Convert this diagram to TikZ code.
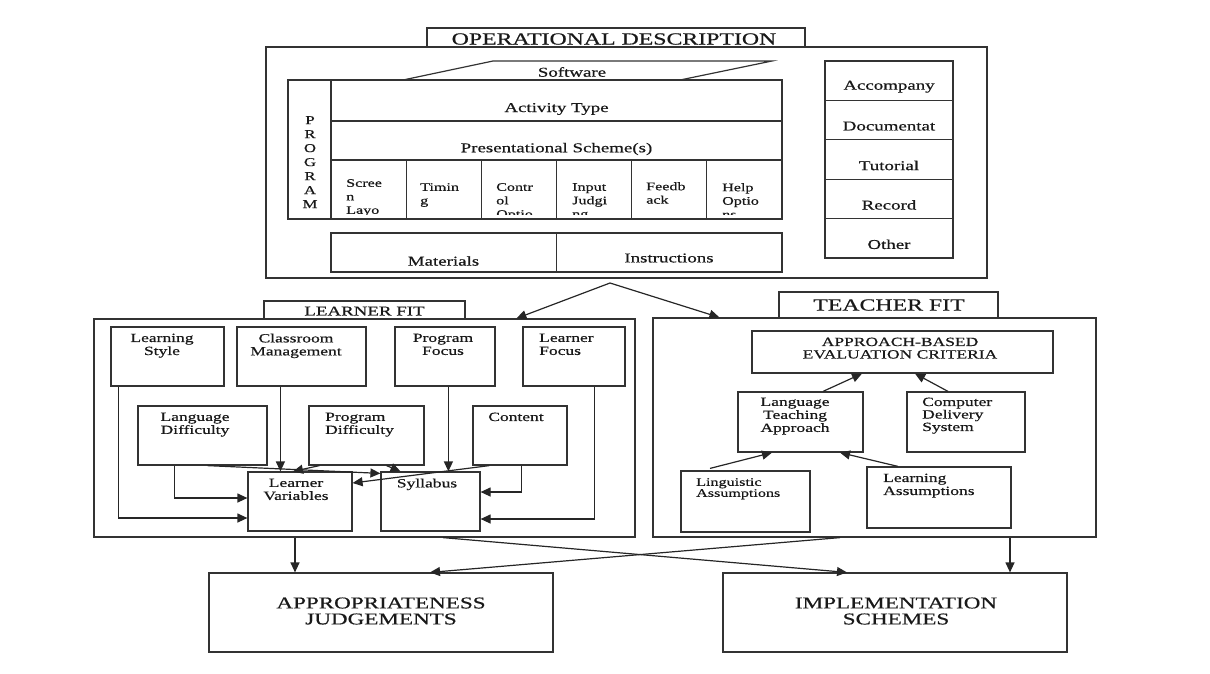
\documentclass[tikz,border=0pt]{standalone}
\usepackage{fontspec}
\setmainfont{Liberation Serif}[FakeStretch=1.4,FakeBold=0.6]
\usetikzlibrary{positioning}
\usetikzlibrary{arrows.meta}
\tikzset{%
  bx/.style = {rectangle,draw=black!80,line width=1.2pt,inner sep=0pt},
  tx/.style = {inner sep=0pt,text=black!90,align=center,
        font=\fontsize{12.5}{13}\selectfont},
  cellt/.style = {inner sep=0pt,text=black!90,align=left,anchor=north west,
        font=\fontsize{11.5}{13.5}\selectfont},
  linkarrow/.style = {-{Triangle[length=10pt,width=9pt]},draw=black!85,line width=1.2pt}
}
\begin{document}
\begin{tikzpicture}[x=1pt,y=-1pt]
  \useasboundingbox (0,0) rectangle (1210,673);
  % operational description
  \node[bx,minimum width=378,minimum height=19] (odtab) at (616,37.5) {};
  \node[tx,font=\fontsize{17}{17}\selectfont] (odtab-t) at (614,39) {OPERATIONAL DESCRIPTION};
  \node[bx,minimum width=721,minimum height=231] (od) at (626.5,162.5) {};
  \draw[black!80,line width=1.2pt] (403,80) -- (493,61) -- (772,61) -- (680,80);
  \node[tx,font=\fontsize{13.5}{14}\selectfont] (soft) at (572,72) {Software};
  \node[bx,minimum width=494,minimum height=139] (prog) at (535,149.5) {};
  \draw[black!80,line width=1.2pt] (331,80) -- (331,219)
    (331,121) -- (782,121) (331,160) -- (782,160)
    (406.2,160) -- (406.2,219) (481.3,160) -- (481.3,219) (556.5,160) -- (556.5,219)
    (631.7,160) -- (631.7,219) (706.8,160) -- (706.8,219);
  \node[tx,anchor=north,font=\fontsize{12}{14}\selectfont] (prog-t) at (310,116) {P\\R\\O\\G\\R\\A\\M};
  \node[tx,font=\fontsize{13.5}{14}\selectfont] (act) at (556.5,109) {Activity Type};
  \node[tx,font=\fontsize{13.5}{14}\selectfont] (pres) at (556.5,149) {Presentational Scheme(s)};
  \begin{scope}
    \clip (331,160) rectangle (782,214.5);
    \node[cellt] (c1) at (346,179) {Scree\\n\\Layo};
    \node[cellt] (c2) at (420,183) {Timin\\g};
    \node[cellt] (c3) at (496,183) {Contr\\ol\\Optio};
    \node[cellt] (c4) at (572,183) {Input\\Judgi\\ng};
    \node[cellt] (c5) at (646,182) {Feedb\\ack};
    \node[cellt] (c6) at (722,183) {Help\\Optio\\ns};
  \end{scope}
  \node[bx,minimum width=225.5,minimum height=39] (mat) at (443.75,252.5) {};
  \node[bx,minimum width=225.5,minimum height=39] (ins) at (669.25,252.5) {};
  \node[tx,font=\fontsize{13.5}{14}\selectfont] (mat-t) at (443.5,261) {Materials};
  \node[tx,font=\fontsize{13.5}{14}\selectfont] (ins-t) at (669,258) {Instructions};
  % accompanying material
  \node[bx,minimum width=128,minimum height=39.4] (acc) at (889,80.7) {};
  \node[bx,minimum width=128,minimum height=39.4] (doc) at (889,120.1) {};
  \node[bx,minimum width=128,minimum height=39.4] (tut) at (889,159.5) {};
  \node[bx,minimum width=128,minimum height=39.4] (rec) at (889,198.9) {};
  \node[bx,minimum width=128,minimum height=39.4] (oth) at (889,238.3) {};
  \node[tx,font=\fontsize{13.5}{14}\selectfont] (acc-t) at (889,86.7) {Accompany};
  \node[tx,font=\fontsize{13.5}{14}\selectfont] (doc-t) at (889,126.1) {Documentat};
  \node[tx,font=\fontsize{13.5}{14}\selectfont] (tut-t) at (889,165.5) {Tutorial};
  \node[tx,font=\fontsize{13.5}{14}\selectfont] (rec-t) at (889,204.9) {Record};
  \node[tx,font=\fontsize{13.5}{14}\selectfont] (oth-t) at (889,244.3) {Other};
  \coordinate (split) at (610,283);
  % learner fit
  \node[bx,minimum width=201,minimum height=18] (lftab) at (364.5,310) {};
  \node[tx,font=\fontsize{13.5}{14}\selectfont] (lftab-t) at (364.5,311) {LEARNER FIT};
  \node[bx,minimum width=541,minimum height=218] (lf) at (364.5,428) {};
  \node[bx,minimum width=113,minimum height=59] (ls) at (167.5,356.5) {};
  \node[bx,minimum width=129,minimum height=59] (cm) at (301.5,356.5) {};
  \node[bx,minimum width=100,minimum height=59] (pf) at (445,356.5) {};
  \node[bx,minimum width=102,minimum height=59] (lfo) at (574,356.5) {};
  \node[bx,minimum width=129,minimum height=59] (ld) at (202.5,435.5) {};
  \node[bx,minimum width=115,minimum height=59] (pd) at (366.5,435.5) {};
  \node[bx,minimum width=94,minimum height=59] (ct) at (520,435.5) {};
  \node[bx,minimum width=104,minimum height=59] (lv) at (300,501.5) {};
  \node[bx,minimum width=99,minimum height=59] (sy) at (430.5,501.5) {};
  \node[tx,anchor=north] (ls-t) at (162,333.5) {Learning\\Style};
  \node[tx,anchor=north] (cm-t) at (296,333.5) {Classroom\\Management};
  \node[tx,anchor=north] (pf-t) at (443,333.5) {Program\\Focus};
  \node[tx,anchor=north west,align=left] (lfo-t) at (539,333.5) {Learner\\Focus};
  \node[tx,anchor=north] (ld-t) at (195,412.5) {Language\\Difficulty};
  \node[tx,anchor=north west,align=left] (pd-t) at (325,412.5) {Program\\Difficulty};
  \node[tx,anchor=north] (ct-t) at (516,412.5) {Content};
  \node[tx,anchor=north] (lv-t) at (296,478.5) {Learner\\Variables};
  \node[tx,anchor=north] (sy-t) at (427,478.5) {Syllabus};
  \draw[linkarrow] ([xshift=8pt]ls.south west) |- ([yshift=-16.5pt]lv.west);
  \draw[linkarrow] ([xshift=37pt]ld.south west) |- ([yshift=3.5pt]lv.west);
  \draw[linkarrow] ([xshift=44pt]cm.south west) -- ([xshift=44pt]cm.south west |- lv.north);
  \draw[linkarrow] ([xshift=54pt]pf.south west) -- ([xshift=54pt]pf.south west |- sy.north);
  \draw[linkarrow] ([xshift=49pt]ct.south west) |- ([yshift=9.5pt]sy.east);
  \draw[linkarrow] ([xshift=72pt]lfo.south west) |- ([yshift=-17.5pt]sy.east);
  \draw[linkarrow] ([xshift=5pt]ld.south) -- ([yshift=-2pt]sy.north west);
  \draw[linkarrow] ([xshift=11pt]pd.south west) -- ([xshift=-7pt]lv.north);
  \draw[linkarrow] ([xshift=20pt]pd.south) -- ([xshift=-30pt]sy.north);
  \draw[linkarrow] ([xshift=17pt]ct.south west) -- ([yshift=18.5pt]lv.east);
  % teacher fit
  \node[bx,minimum width=219,minimum height=26] (tftab) at (888.5,305) {};
  \node[tx,font=\fontsize{17}{17}\selectfont] (tftab-t) at (889,305) {TEACHER FIT};
  \node[bx,minimum width=443,minimum height=219] (tf) at (874.5,427.5) {};
  \node[bx,minimum width=301,minimum height=42] (ab) at (902.5,352) {};
  \node[bx,minimum width=125,minimum height=60] (lta) at (800.5,422) {};
  \node[bx,minimum width=118,minimum height=60] (cds) at (966,422) {};
  \node[bx,minimum width=129,minimum height=61] (lin) at (745.5,501.5) {};
  \node[bx,minimum width=144,minimum height=61] (lea) at (939,497.5) {};
  \node[tx,anchor=north,font=\fontsize{12.5}{12.5}\selectfont] (ab-t) at (900,337.5) {APPROACH-BASED\\EVALUATION CRITERIA};
  \node[tx,anchor=north] (lta-t) at (795,397.5) {Language\\Teaching\\Approach};
  \node[tx,anchor=north west,align=left,font=\fontsize{12.5}{12.5}\selectfont] (cds-t) at (922,397.5) {Computer\\Delivery\\System};
  \node[tx,anchor=north west,align=left,font=\fontsize{11.5}{11}\selectfont] (lin-t) at (696,478) {Linguistic\\Assumptions};
  \node[tx,anchor=north west,align=left] (lea-t) at (883,473.5) {Learning\\Assumptions};
  \draw[linkarrow] ([xshift=22.5pt]lta.north) -- ([xshift=-40.5pt]ab.south);
  \draw[linkarrow] ([xshift=-18pt]cds.north) -- ([xshift=12.5pt]ab.south);
  \draw[linkarrow] ([xshift=-35.5pt,yshift=2pt]lin.north) -- ([xshift=-28.5pt]lta.south);
  \draw[linkarrow] ([xshift=-41pt]lea.north) -- ([xshift=39.5pt]lta.south);
  \draw[linkarrow] (split) -- ([xshift=423pt]lf.north west);
  \draw[linkarrow] (split) -- ([xshift=67pt]tf.north west);
  % judgements and schemes
  \node[bx,minimum width=344,minimum height=79] (app) at (381,612.5) {};
  \node[bx,minimum width=344,minimum height=79] (imp) at (895,612.5) {};
  \node[tx,font=\fontsize{16.5}{16}\selectfont] (app-t) at (381,611) {APPROPRIATENESS\\JUDGEMENTS};
  \node[tx,font=\fontsize{16.5}{16}\selectfont] (imp-t) at (896,611) {IMPLEMENTATION\\SCHEMES};
  \draw[linkarrow] ([xshift=-69.5pt]lf.south) -- ([xshift=-69.5pt]lf.south |- app.north);
  \draw[linkarrow] ([xshift=78.5pt]lf.south) -- ([xshift=-48pt]imp.north);
  \draw[linkarrow] ([xshift=-34.5pt]tf.south) -- ([xshift=49pt]app.north);
  \draw[linkarrow] ([xshift=135.5pt]tf.south) -- ([xshift=135.5pt]tf.south |- imp.north);
\end{tikzpicture}
\end{document}
